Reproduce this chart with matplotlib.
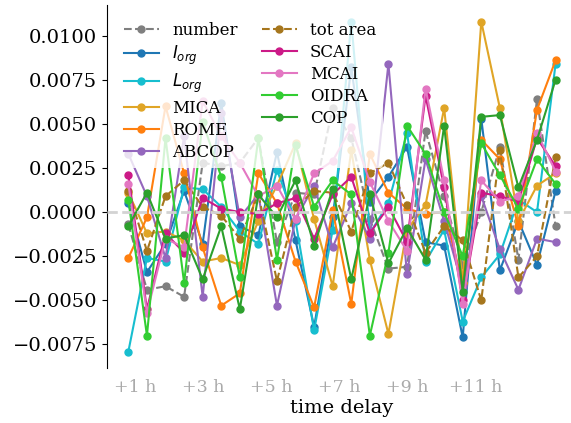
import numpy as np
from matplotlib import pyplot as plt

plt.rcParams['font.family'] = 'serif'
plt.rcParams['mathtext.fontset'] = 'dejavusans'

# time delay steps
steps = np.arange(24)
tick_pos = [0.38, 4.04, 7.7, 11.36, 15.02, 18.68]
tick_labels = ['+1 h', '+3 h', '+5 h', '+7 h', '+9 h', '+11 h']

number = [-0.0007, -0.0044, -0.0042, -0.0048, 0.0028, 0.0026, 0.0028, 0.0042, -0.0017, 0.0011, 0.0010, 0.0059,
          0.0042, -0.0004, -0.0032, -0.0031, 0.0046, 0.0009, -0.0030, 0.0000, 0.0037, -0.0027, 0.0064, -0.0008]
I_org = [0.0005, -0.0034, -0.0018, 0.0012, -0.0018, 0.0062, -0.0008, -0.0013, 0.0034, -0.0016, -0.0065, -0.0003,
         0.0082, 0.0006, 0.0020, 0.0037, -0.0017, -0.0019, -0.0071, 0.0053, -0.0033, -0.0005, -0.0030, 0.0012]
L_org = [-0.0079, -0.0026, -0.0028, 0.0014, 0.0013, 0.0003, -0.0011, -0.0018, 0.0024, -0.0005, -0.0067, -0.0010,
         0.0108, -0.0012, 0.0005, 0.0045, -0.0028, -0.0010, -0.0062, -0.0037, -0.0024, 0.0007, 0.0000, 0.0084]
MICA = [0.0011, -0.0012, -0.0011, -0.0016, -0.0028, -0.0026, -0.0030, -0.0005, 0.0015, 0.0039, -0.0004, -0.0042,
        0.0035, -0.0027, -0.0069, -0.0010, 0.0004, 0.0059, -0.0040, 0.0108, 0.0059, -0.0005, 0.0015, 0.0022]
ROME = [-0.0026, -0.0003, 0.0060, 0.0022, -0.0020, -0.0053, -0.0046, 0.0022, 0.0005, -0.0028, -0.0054, 0.0001,
        -0.0052, 0.0033, 0.0011, 0.0002, -0.0001, 0.0000, -0.0040, 0.0041, 0.0030, -0.0008, 0.0058, 0.0086]
ABCOP = [0.0033, 0.0009, -0.0026, 0.0043, -0.0048, 0.0056, -0.0003, 0.0010, -0.0053, -0.0004, 0.0015, -0.0020,
         0.0005, -0.0015, 0.0084, -0.0035, 0.0030, -0.0005, -0.0042, 0.0009, -0.0021, -0.0044, -0.0015, -0.0017]
tot_area = [0.0012, -0.0022, 0.0009, 0.0018, 0.0003, -0.0002, -0.0015, 0.0010, -0.0039, 0.0003, 0.0012, 0.0011,
            -0.0011, 0.0022, 0.0028, 0.0004, -0.0023, -0.0008, -0.0016, -0.0050, 0.0035, -0.0037, -0.0025, 0.0031]
SCAI = [0.0021, -0.0055, -0.0012, -0.0023, 0.0008, 0.0002, 0.0000, -0.0001, 0.0005, 0.0008, -0.0015, 0.0010,
        0.0020, -0.0012, 0.0003, -0.0017, 0.0066, 0.0014, -0.0050, 0.0011, 0.0009, 0.0006, 0.0042, 0.0026]
MCAI = [0.0016, -0.0057, -0.0015, -0.0020, 0.0063, 0.0043, 0.0028, 0.0009, 0.0015, -0.0004, 0.0022, 0.0029,
        0.0048, 0.0017, -0.0005, -0.0022, 0.0070, 0.0018, -0.0052, 0.0018, 0.0006, 0.0009, 0.0045, 0.0023]
OIDRA = [0.0007, -0.0070, 0.0042, -0.0040, 0.0051, 0.0020, -0.0037, 0.0042, -0.0027, 0.0038, 0.0003, 0.0018,
         0.0010, -0.0070, -0.0023, 0.0049, 0.0033, 0.0000, -0.0025, 0.0039, 0.0021, 0.0002, 0.0030, 0.0016]
COP = [-0.0008, 0.0011, -0.0015, -0.0013, -0.0038, -0.0008, -0.0055, 0.0010, -0.0003, 0.0018, -0.0019, 0.0013,
       -0.0038, 0.0010, -0.0029, -0.0009, -0.0027, 0.0049, -0.0045, 0.0054, 0.0055, 0.0014, 0.0041, 0.0075]

series = [
    ('number', number, '#7f7f7f', '--'),
    ('$I_{org}$', I_org, '#1f77b4', '-'),
    ('$L_{org}$', L_org, '#17becf', '-'),
    ('MICA', MICA, '#e0a526', '-'),
    ('ROME', ROME, '#ff7f0e', '-'),
    ('ABCOP', ABCOP, '#9467bd', '-'),
    ('tot area', tot_area, '#a6761d', '--'),
    ('SCAI', SCAI, '#cc1a87', '-'),
    ('MCAI', MCAI, '#e377c2', '-'),
    ('OIDRA', OIDRA, '#32cd32', '-'),
    ('COP', COP, '#2ca02c', '-'),
]

fig = plt.figure(figsize=(5.71, 4.23), dpi=100)
ax = fig.add_axes([0.1874, 0.130, 0.823, 0.858])

for name, vals, col, ls in series:
    ax.plot(steps, vals, ls, color=col, marker='o', markersize=5, lw=1.5, label=name)

ax.axhline(0, color='lightgray', ls='--', lw=2, zorder=5)

ax.set_xticks(tick_pos)
ax.set_xticklabels(tick_labels, color='#aaaaaa', fontsize=12.5)
ax.tick_params(axis='x', length=0, pad=8)
ax.tick_params(axis='y', labelsize=14)
ax.set_xlabel('time delay', fontsize=14, labelpad=2)
for s in ['top', 'right', 'bottom']:
    ax.spines[s].set_visible(False)

leg = ax.legend(loc='upper left', ncol=2, fontsize=12, framealpha=0.8,
                handlelength=2.1, columnspacing=1.45, labelspacing=0.3,
                borderaxespad=0.6)
leg.get_frame().set_edgecolor('none')

plt.savefig('out.png', dpi=100)
